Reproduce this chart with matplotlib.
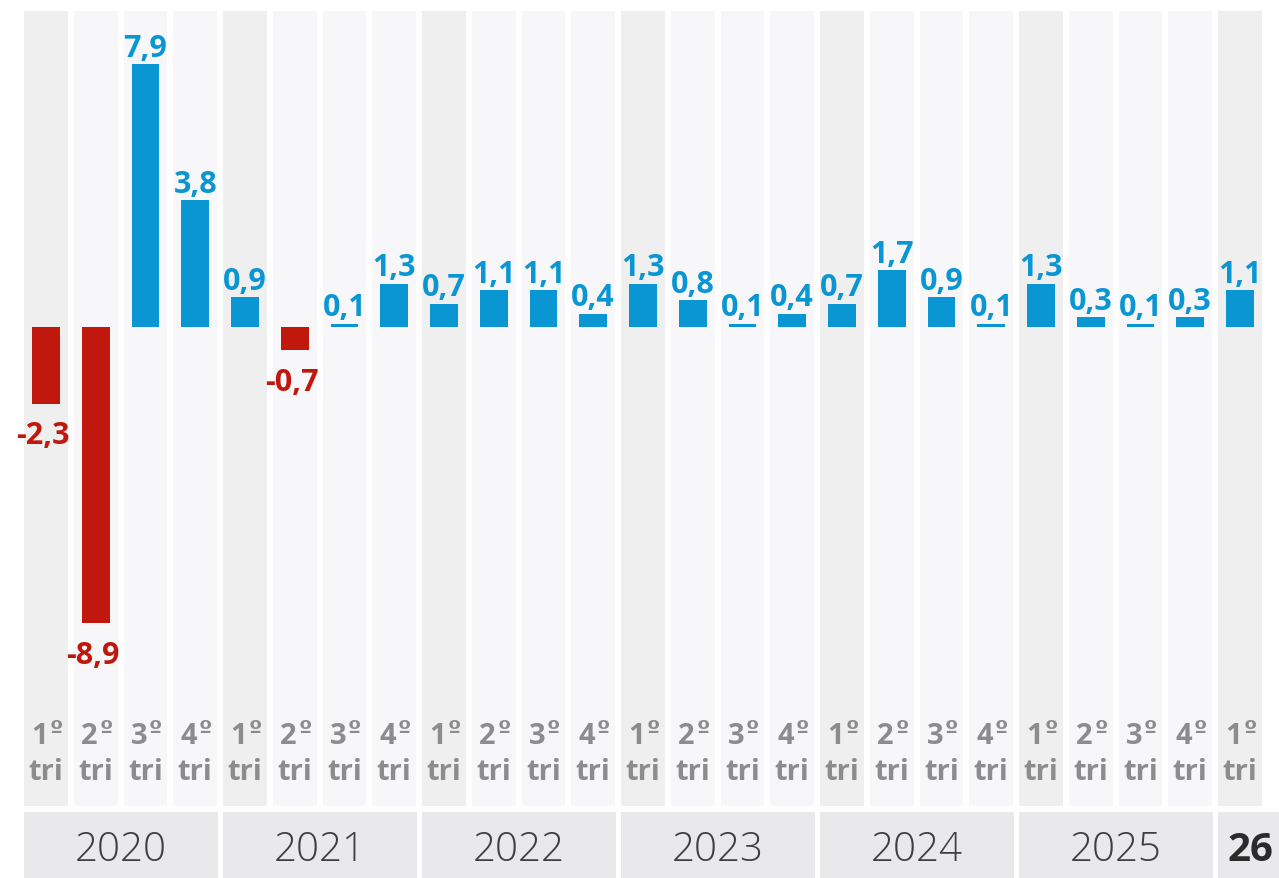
import matplotlib
matplotlib.use("Agg")
import matplotlib.pyplot as plt
from matplotlib.patches import Rectangle

plt.rcParams['font.family'] = ['Open Sans', 'DejaVu Sans']

values = [-2.3, -8.9, 7.9, 3.8, 0.9, -0.7, 0.1, 1.3, 0.7, 1.1, 1.1, 0.4,
          1.3, 0.8, 0.1, 0.4, 0.7, 1.7, 0.9, 0.1, 1.3, 0.3, 0.1, 0.3, 1.1]
quarters = ["1", "2", "3", "4"] * 6 + ["1"]
years = ["2020", "2021", "2022", "2023", "2024", "2025", "26"]

BLUE = "#0a96d3"
RED = "#c0180d"
TRI = "#8c8c8c"

W, H = 1279, 879
fig = plt.figure(figsize=(W / 100, H / 100), dpi=100)
ax = fig.add_axes([0, 0, 1, 1])

step = 49.75       # px per column
x0 = 46            # px center of first column
zero_px = 328      # px of zero line
scale = 33.3       # px per unit

ax.set_xlim(-x0 / step, (W - x0) / step)
ax.set_ylim(-(H - zero_px) / scale, zero_px / scale)
ax.axis("off")

def yv(px):
    return (zero_px - px) / scale

n = len(values)
# column backgrounds
for i in range(n):
    col = "#efeff0" if quarters[i] == "1" else "#f7f7f9"
    ax.add_patch(Rectangle((i - 0.442, yv(807)), 0.884, yv(12) - yv(807),
                           facecolor=col, edgecolor="none", zorder=0))

# year bands
for k, yr in enumerate(years):
    a = k * 4
    b = min(a + 3, n - 1) if yr != "26" else a + 2
    left = a - 0.45
    right = b + 0.5 - 0.05
    ax.add_patch(Rectangle((left, yv(H + 5)), right - left, yv(813) - yv(H + 5),
                           facecolor="#e9e9eb", edgecolor="none", zorder=0))
    if yr == "26":
        ax.text(left + 0.2, yv(851), yr, ha="left", va="center",
                fontsize=29, fontweight="bold", color="#2b2b2b")
    else:
        ax.text((a + b) / 2, yv(851), yr, ha="center", va="center",
                fontsize=29, fontweight="light", color="#3f3f3f")

# bars
colors = [BLUE if v >= 0 else RED for v in values]
ax.bar(range(n), values, width=0.56, color=colors, zorder=2)

for i, v in enumerate(values):
    lab = f"{v:.1f}".replace(".", ",")
    if v >= 0:
        ax.annotate(lab, (i, v), xytext=(0, 1), textcoords="offset points",
                    ha="center", va="bottom", fontsize=22, fontweight="bold",
                    color=BLUE, zorder=3)
    else:
        ax.annotate(lab, (i, v), xytext=(-2, -12), textcoords="offset points",
                    ha="center", va="top", fontsize=22, fontweight="bold",
                    color=RED, zorder=3)
    ax.annotate(quarters[i], (i, yv(737)), xytext=(1.5, 0), textcoords="offset points",
                ha="right", va="center", fontsize=21, fontweight="bold",
                color=TRI, zorder=3)
    ax.annotate("º", (i, yv(730)), xytext=(2.5, 0), textcoords="offset points",
                ha="left", va="center", fontsize=17, fontweight="bold",
                color=TRI, family=["DejaVu Sans"], zorder=3)
    ax.text(i, yv(773), "tri", ha="center", va="center", fontsize=21,
            fontweight="bold", color=TRI, zorder=3)

fig.savefig("out.png", dpi=100, facecolor="white")
